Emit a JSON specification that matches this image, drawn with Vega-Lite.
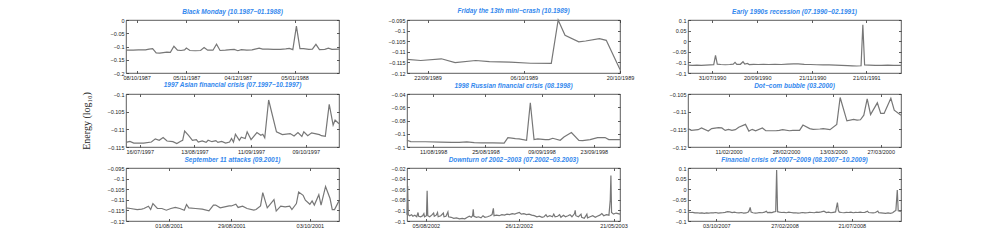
{
"$schema": "https://vega.github.io/schema/vega-lite/v6.json",
"background": "white",
"padding": {"left": 80, "top": 7, "right": 10, "bottom": 5},
"columns": 3,
"spacing": {"row": 21, "column": 68},
"bounds": "flush",
"datasets": {
"p1": [
{"d":"1987-10-02","v":-0.114},{"d":"1987-10-06","v":-0.114},{"d":"1987-10-09","v":-0.113},{"d":"1987-10-13","v":-0.113},{"d":"1987-10-15","v":-0.110},{"d":"1987-10-17","v":-0.108},{"d":"1987-10-19","v":-0.124},{"d":"1987-10-21","v":-0.125},{"d":"1987-10-23","v":-0.123},{"d":"1987-10-25","v":-0.121},{"d":"1987-10-27","v":-0.122},{"d":"1987-10-29","v":-0.099},{"d":"1987-10-31","v":-0.114},{"d":"1987-11-02","v":-0.115},{"d":"1987-11-04","v":-0.113},{"d":"1987-11-05","v":-0.106},{"d":"1987-11-07","v":-0.115},{"d":"1987-11-10","v":-0.116},{"d":"1987-11-13","v":-0.115},{"d":"1987-11-15","v":-0.104},{"d":"1987-11-17","v":-0.114},{"d":"1987-11-20","v":-0.114},{"d":"1987-11-22","v":-0.091},{"d":"1987-11-24","v":-0.115},{"d":"1987-11-27","v":-0.114},{"d":"1987-11-30","v":-0.112},{"d":"1987-12-02","v":-0.111},{"d":"1987-12-04","v":-0.116},{"d":"1987-12-06","v":-0.112},{"d":"1987-12-09","v":-0.114},{"d":"1987-12-12","v":-0.113},{"d":"1987-12-16","v":-0.106},{"d":"1987-12-18","v":-0.110},{"d":"1987-12-21","v":-0.110},{"d":"1987-12-24","v":-0.111},{"d":"1987-12-28","v":-0.111},{"d":"1987-12-31","v":-0.109},{"d":"1988-01-02","v":-0.107},{"d":"1988-01-04","v":-0.112},{"d":"1988-01-06","v":-0.023},{"d":"1988-01-08","v":-0.108},{"d":"1988-01-10","v":-0.108},{"d":"1988-01-13","v":-0.111},{"d":"1988-01-15","v":-0.110},{"d":"1988-01-17","v":-0.092},{"d":"1988-01-19","v":-0.112},{"d":"1988-01-22","v":-0.111},{"d":"1988-01-24","v":-0.106},{"d":"1988-01-26","v":-0.111},{"d":"1988-01-30","v":-0.110}
],
"p2": [
{"d":"1989-09-19","v":-0.1136},{"d":"1989-09-21","v":-0.1141},{"d":"1989-09-24","v":-0.1133},{"d":"1989-09-26","v":-0.1151},{"d":"1989-09-29","v":-0.1141},{"d":"1989-10-01","v":-0.1146},{"d":"1989-10-04","v":-0.1149},{"d":"1989-10-07","v":-0.1154},{"d":"1989-10-10","v":-0.1155},{"d":"1989-10-11","v":-0.0950},{"d":"1989-10-12","v":-0.1022},{"d":"1989-10-14","v":-0.1053},{"d":"1989-10-15","v":-0.1049},{"d":"1989-10-17","v":-0.1038},{"d":"1989-10-18","v":-0.1046},{"d":"1989-10-20","v":-0.1184}
],
"p3": [
{"d":"1990-07-04","v":-0.113},{"d":"1990-07-09","v":-0.114},{"d":"1990-07-14","v":-0.113},{"d":"1990-07-19","v":-0.114},{"d":"1990-07-24","v":-0.113},{"d":"1990-07-29","v":-0.112},{"d":"1990-08-02","v":-0.111},{"d":"1990-08-04","v":-0.067},{"d":"1990-08-06","v":-0.108},{"d":"1990-08-10","v":-0.110},{"d":"1990-08-15","v":-0.111},{"d":"1990-08-20","v":-0.110},{"d":"1990-08-24","v":-0.108},{"d":"1990-08-26","v":-0.100},{"d":"1990-08-28","v":-0.109},{"d":"1990-09-01","v":-0.109},{"d":"1990-09-04","v":-0.097},{"d":"1990-09-06","v":-0.108},{"d":"1990-09-09","v":-0.105},{"d":"1990-09-11","v":-0.110},{"d":"1990-09-16","v":-0.109},{"d":"1990-09-21","v":-0.110},{"d":"1990-09-27","v":-0.109},{"d":"1990-10-03","v":-0.110},{"d":"1990-10-10","v":-0.109},{"d":"1990-10-17","v":-0.110},{"d":"1990-10-24","v":-0.108},{"d":"1990-10-31","v":-0.107},{"d":"1990-11-05","v":-0.107},{"d":"1990-11-12","v":-0.109},{"d":"1990-11-19","v":-0.110},{"d":"1990-11-26","v":-0.111},{"d":"1990-12-03","v":-0.112},{"d":"1990-12-10","v":-0.112},{"d":"1990-12-17","v":-0.113},{"d":"1990-12-24","v":-0.114},{"d":"1990-12-31","v":-0.115},{"d":"1991-01-05","v":-0.116},{"d":"1991-01-10","v":-0.117},{"d":"1991-01-15","v":-0.116},{"d":"1991-01-17","v":0.078},{"d":"1991-01-19","v":-0.112},{"d":"1991-01-24","v":-0.113},{"d":"1991-01-31","v":-0.114},{"d":"1991-02-07","v":-0.114},{"d":"1991-02-14","v":-0.113},{"d":"1991-02-21","v":-0.114},{"d":"1991-03-01","v":-0.114}
],
"p4": [
{"d":"1997-07-09","v":-0.1137},{"d":"1997-07-11","v":-0.1134},{"d":"1997-07-13","v":-0.1139},{"d":"1997-07-18","v":-0.1139},{"d":"1997-07-22","v":-0.1136},{"d":"1997-07-24","v":-0.1127},{"d":"1997-07-26","v":-0.1131},{"d":"1997-07-28","v":-0.1123},{"d":"1997-07-30","v":-0.1133},{"d":"1997-08-02","v":-0.1135},{"d":"1997-08-04","v":-0.1140},{"d":"1997-08-06","v":-0.1134},{"d":"1997-08-07","v":-0.1131},{"d":"1997-08-08","v":-0.1105},{"d":"1997-08-10","v":-0.1117},{"d":"1997-08-12","v":-0.1131},{"d":"1997-08-14","v":-0.1129},{"d":"1997-08-15","v":-0.1136},{"d":"1997-08-17","v":-0.1133},{"d":"1997-08-19","v":-0.1137},{"d":"1997-08-20","v":-0.1131},{"d":"1997-08-22","v":-0.1135},{"d":"1997-08-24","v":-0.1132},{"d":"1997-08-25","v":-0.1137},{"d":"1997-08-27","v":-0.1134},{"d":"1997-08-29","v":-0.1139},{"d":"1997-08-31","v":-0.1136},{"d":"1997-09-01","v":-0.1126},{"d":"1997-09-02","v":-0.1136},{"d":"1997-09-03","v":-0.1114},{"d":"1997-09-05","v":-0.1131},{"d":"1997-09-06","v":-0.1122},{"d":"1997-09-08","v":-0.1126},{"d":"1997-09-09","v":-0.1107},{"d":"1997-09-11","v":-0.1129},{"d":"1997-09-14","v":-0.1109},{"d":"1997-09-16","v":-0.1117},{"d":"1997-09-17","v":-0.1114},{"d":"1997-09-18","v":-0.1124},{"d":"1997-09-20","v":-0.1017},{"d":"1997-09-24","v":-0.1107},{"d":"1997-09-27","v":-0.1115},{"d":"1997-10-01","v":-0.1112},{"d":"1997-10-03","v":-0.1119},{"d":"1997-10-05","v":-0.1109},{"d":"1997-10-07","v":-0.1120},{"d":"1997-10-08","v":-0.1107},{"d":"1997-10-10","v":-0.1118},{"d":"1997-10-12","v":-0.1110},{"d":"1997-10-16","v":-0.1115},{"d":"1997-10-17","v":-0.1118},{"d":"1997-10-19","v":-0.1120},{"d":"1997-10-20","v":-0.1074},{"d":"1997-10-21","v":-0.1029},{"d":"1997-10-23","v":-0.1088},{"d":"1997-10-24","v":-0.1074},{"d":"1997-10-26","v":-0.1084}
],
"p5": [
{"d":"1998-08-04","v":-0.1099},{"d":"1998-08-05","v":-0.1119},{"d":"1998-08-09","v":-0.1121},{"d":"1998-08-13","v":-0.1125},{"d":"1998-08-16","v":-0.1129},{"d":"1998-08-18","v":-0.1131},{"d":"1998-08-20","v":-0.1124},{"d":"1998-08-22","v":-0.1134},{"d":"1998-08-24","v":-0.1139},{"d":"1998-08-27","v":-0.1137},{"d":"1998-08-30","v":-0.1140},{"d":"1998-08-31","v":-0.1058},{"d":"1998-09-02","v":-0.1073},{"d":"1998-09-03","v":-0.1078},{"d":"1998-09-05","v":-0.1099},{"d":"1998-09-06","v":-0.0532},{"d":"1998-09-07","v":-0.1089},{"d":"1998-09-08","v":-0.1078},{"d":"1998-09-10","v":-0.1089},{"d":"1998-09-11","v":-0.1089},{"d":"1998-09-12","v":-0.1068},{"d":"1998-09-14","v":-0.1099},{"d":"1998-09-15","v":-0.1048},{"d":"1998-09-17","v":-0.0982},{"d":"1998-09-19","v":-0.1099},{"d":"1998-09-20","v":-0.1104},{"d":"1998-09-22","v":-0.1089},{"d":"1998-09-24","v":-0.1058},{"d":"1998-09-26","v":-0.1058},{"d":"1998-09-27","v":-0.1089},{"d":"1998-09-30","v":-0.1089}
],
"p6": [
{"d":"2000-01-30","v":-0.1148},{"d":"2000-01-31","v":-0.1153},{"d":"2000-02-02","v":-0.1151},{"d":"2000-02-03","v":-0.1146},{"d":"2000-02-05","v":-0.1155},{"d":"2000-02-06","v":-0.1148},{"d":"2000-02-08","v":-0.1145},{"d":"2000-02-09","v":-0.1146},{"d":"2000-02-10","v":-0.1153},{"d":"2000-02-11","v":-0.1150},{"d":"2000-02-12","v":-0.1153},{"d":"2000-02-13","v":-0.1151},{"d":"2000-02-14","v":-0.1144},{"d":"2000-02-16","v":-0.1136},{"d":"2000-02-17","v":-0.1155},{"d":"2000-02-18","v":-0.1150},{"d":"2000-02-19","v":-0.1154},{"d":"2000-02-21","v":-0.1146},{"d":"2000-02-22","v":-0.1154},{"d":"2000-02-24","v":-0.1154},{"d":"2000-02-25","v":-0.1154},{"d":"2000-02-26","v":-0.1153},{"d":"2000-02-27","v":-0.1151},{"d":"2000-02-29","v":-0.1154},{"d":"2000-03-01","v":-0.1153},{"d":"2000-03-03","v":-0.1153},{"d":"2000-03-04","v":-0.1138},{"d":"2000-03-06","v":-0.1148},{"d":"2000-03-07","v":-0.1150},{"d":"2000-03-09","v":-0.1149},{"d":"2000-03-10","v":-0.1148},{"d":"2000-03-12","v":-0.1151},{"d":"2000-03-14","v":-0.1136},{"d":"2000-03-15","v":-0.1060},{"d":"2000-03-17","v":-0.1126},{"d":"2000-03-19","v":-0.1122},{"d":"2000-03-20","v":-0.1124},{"d":"2000-03-21","v":-0.1123},{"d":"2000-03-22","v":-0.1110},{"d":"2000-03-23","v":-0.1064},{"d":"2000-03-24","v":-0.1108},{"d":"2000-03-26","v":-0.1075},{"d":"2000-03-27","v":-0.1105},{"d":"2000-03-28","v":-0.1105},{"d":"2000-03-30","v":-0.1062},{"d":"2000-03-31","v":-0.1096},{"d":"2000-04-02","v":-0.1110}
],
"p7": [
{"d":"2001-07-13","v":-0.1138},{"d":"2001-07-15","v":-0.1141},{"d":"2001-07-18","v":-0.1146},{"d":"2001-07-20","v":-0.1144},{"d":"2001-07-21","v":-0.1141},{"d":"2001-07-23","v":-0.1130},{"d":"2001-07-24","v":-0.1146},{"d":"2001-07-25","v":-0.1118},{"d":"2001-07-27","v":-0.1141},{"d":"2001-07-29","v":-0.1141},{"d":"2001-07-31","v":-0.1149},{"d":"2001-08-02","v":-0.1141},{"d":"2001-08-04","v":-0.1136},{"d":"2001-08-06","v":-0.1141},{"d":"2001-08-08","v":-0.1149},{"d":"2001-08-09","v":-0.1122},{"d":"2001-08-10","v":-0.1138},{"d":"2001-08-13","v":-0.1141},{"d":"2001-08-16","v":-0.1144},{"d":"2001-08-19","v":-0.1152},{"d":"2001-08-21","v":-0.1125},{"d":"2001-08-22","v":-0.1125},{"d":"2001-08-24","v":-0.1138},{"d":"2001-08-26","v":-0.1133},{"d":"2001-08-28","v":-0.1129},{"d":"2001-08-29","v":-0.1129},{"d":"2001-08-31","v":-0.1121},{"d":"2001-09-01","v":-0.1136},{"d":"2001-09-03","v":-0.1130},{"d":"2001-09-05","v":-0.1141},{"d":"2001-09-08","v":-0.1149},{"d":"2001-09-09","v":-0.1146},{"d":"2001-09-11","v":-0.1129},{"d":"2001-09-12","v":-0.1066},{"d":"2001-09-14","v":-0.1138},{"d":"2001-09-15","v":-0.1125},{"d":"2001-09-17","v":-0.1099},{"d":"2001-09-18","v":-0.1153},{"d":"2001-09-20","v":-0.1130},{"d":"2001-09-22","v":-0.1133},{"d":"2001-09-24","v":-0.1130},{"d":"2001-09-25","v":-0.1146},{"d":"2001-09-27","v":-0.1118},{"d":"2001-09-28","v":-0.1063},{"d":"2001-09-30","v":-0.1079},{"d":"2001-10-01","v":-0.1102},{"d":"2001-10-03","v":-0.1121},{"d":"2001-10-04","v":-0.1105},{"d":"2001-10-05","v":-0.1125},{"d":"2001-10-07","v":-0.1076},{"d":"2001-10-08","v":-0.1125},{"d":"2001-10-10","v":-0.1037},{"d":"2001-10-12","v":-0.1094},{"d":"2001-10-13","v":-0.1146},{"d":"2001-10-14","v":-0.1146},{"d":"2001-10-16","v":-0.1105}
],
"p8": [
{"d":"2002-07-07","v":-0.108},{"d":"2002-07-08","v":-0.054},{"d":"2002-07-09","v":-0.108},{"d":"2002-07-11","v":-0.110},{"d":"2002-07-14","v":-0.108},{"d":"2002-07-16","v":-0.111},{"d":"2002-07-19","v":-0.109},{"d":"2002-07-22","v":-0.112},{"d":"2002-07-24","v":-0.104},{"d":"2002-07-25","v":-0.111},{"d":"2002-07-28","v":-0.112},{"d":"2002-07-31","v":-0.110},{"d":"2002-08-02","v":-0.106},{"d":"2002-08-03","v":-0.112},{"d":"2002-08-06","v":-0.110},{"d":"2002-08-07","v":-0.063},{"d":"2002-08-08","v":-0.110},{"d":"2002-08-11","v":-0.112},{"d":"2002-08-14","v":-0.109},{"d":"2002-08-17","v":-0.105},{"d":"2002-08-18","v":-0.111},{"d":"2002-08-21","v":-0.109},{"d":"2002-08-23","v":-0.104},{"d":"2002-08-24","v":-0.112},{"d":"2002-08-28","v":-0.110},{"d":"2002-09-01","v":-0.105},{"d":"2002-09-02","v":-0.112},{"d":"2002-09-05","v":-0.111},{"d":"2002-09-08","v":-0.103},{"d":"2002-09-09","v":-0.112},{"d":"2002-09-13","v":-0.113},{"d":"2002-09-17","v":-0.115},{"d":"2002-09-21","v":-0.114},{"d":"2002-09-26","v":-0.116},{"d":"2002-09-30","v":-0.115},{"d":"2002-10-04","v":-0.116},{"d":"2002-10-08","v":-0.113},{"d":"2002-10-11","v":-0.111},{"d":"2002-10-14","v":-0.113},{"d":"2002-10-16","v":-0.110},{"d":"2002-10-17","v":-0.098},{"d":"2002-10-18","v":-0.111},{"d":"2002-10-22","v":-0.113},{"d":"2002-10-25","v":-0.112},{"d":"2002-10-29","v":-0.114},{"d":"2002-11-01","v":-0.110},{"d":"2002-11-04","v":-0.113},{"d":"2002-11-08","v":-0.112},{"d":"2002-11-12","v":-0.110},{"d":"2002-11-15","v":-0.108},{"d":"2002-11-17","v":-0.096},{"d":"2002-11-18","v":-0.110},{"d":"2002-11-22","v":-0.109},{"d":"2002-11-26","v":-0.110},{"d":"2002-11-30","v":-0.108},{"d":"2002-12-04","v":-0.109},{"d":"2002-12-08","v":-0.107},{"d":"2002-12-12","v":-0.108},{"d":"2002-12-16","v":-0.106},{"d":"2002-12-20","v":-0.107},{"d":"2002-12-24","v":-0.105},{"d":"2002-12-27","v":-0.104},{"d":"2002-12-30","v":-0.107},{"d":"2003-01-03","v":-0.106},{"d":"2003-01-07","v":-0.108},{"d":"2003-01-11","v":-0.107},{"d":"2003-01-15","v":-0.109},{"d":"2003-01-19","v":-0.110},{"d":"2003-01-23","v":-0.112},{"d":"2003-01-27","v":-0.111},{"d":"2003-01-31","v":-0.113},{"d":"2003-02-03","v":-0.112},{"d":"2003-02-06","v":-0.108},{"d":"2003-02-08","v":-0.112},{"d":"2003-02-12","v":-0.110},{"d":"2003-02-16","v":-0.112},{"d":"2003-02-18","v":-0.107},{"d":"2003-02-20","v":-0.112},{"d":"2003-02-24","v":-0.111},{"d":"2003-02-27","v":-0.108},{"d":"2003-03-01","v":-0.113},{"d":"2003-03-05","v":-0.109},{"d":"2003-03-08","v":-0.112},{"d":"2003-03-12","v":-0.110},{"d":"2003-03-15","v":-0.108},{"d":"2003-03-18","v":-0.112},{"d":"2003-03-22","v":-0.106},{"d":"2003-03-23","v":-0.100},{"d":"2003-03-24","v":-0.110},{"d":"2003-03-28","v":-0.112},{"d":"2003-04-01","v":-0.107},{"d":"2003-04-02","v":-0.113},{"d":"2003-04-06","v":-0.115},{"d":"2003-04-10","v":-0.107},{"d":"2003-04-11","v":-0.114},{"d":"2003-04-15","v":-0.112},{"d":"2003-04-19","v":-0.110},{"d":"2003-04-23","v":-0.113},{"d":"2003-04-26","v":-0.111},{"d":"2003-04-30","v":-0.109},{"d":"2003-05-03","v":-0.106},{"d":"2003-05-06","v":-0.110},{"d":"2003-05-10","v":-0.108},{"d":"2003-05-14","v":-0.109},{"d":"2003-05-16","v":-0.080},{"d":"2003-05-17","v":-0.034},{"d":"2003-05-18","v":-0.104},{"d":"2003-05-21","v":-0.107},{"d":"2003-05-25","v":-0.105},{"d":"2003-05-31","v":-0.107}
],
"p9": [
{"d":"2007-08-03","v":-0.108},{"d":"2007-08-08","v":-0.110},{"d":"2007-08-13","v":-0.109},{"d":"2007-08-18","v":-0.112},{"d":"2007-08-23","v":-0.111},{"d":"2007-08-28","v":-0.113},{"d":"2007-09-02","v":-0.112},{"d":"2007-09-07","v":-0.114},{"d":"2007-09-12","v":-0.112},{"d":"2007-09-17","v":-0.113},{"d":"2007-09-22","v":-0.111},{"d":"2007-09-27","v":-0.112},{"d":"2007-10-02","v":-0.110},{"d":"2007-10-07","v":-0.113},{"d":"2007-10-12","v":-0.112},{"d":"2007-10-17","v":-0.111},{"d":"2007-10-22","v":-0.109},{"d":"2007-10-27","v":-0.106},{"d":"2007-11-01","v":-0.107},{"d":"2007-11-06","v":-0.110},{"d":"2007-11-11","v":-0.108},{"d":"2007-11-16","v":-0.111},{"d":"2007-11-21","v":-0.112},{"d":"2007-11-26","v":-0.110},{"d":"2007-12-01","v":-0.113},{"d":"2007-12-06","v":-0.112},{"d":"2007-12-11","v":-0.108},{"d":"2007-12-13","v":-0.100},{"d":"2007-12-15","v":-0.086},{"d":"2007-12-17","v":-0.108},{"d":"2007-12-21","v":-0.111},{"d":"2007-12-26","v":-0.113},{"d":"2007-12-31","v":-0.112},{"d":"2008-01-05","v":-0.110},{"d":"2008-01-10","v":-0.111},{"d":"2008-01-15","v":-0.108},{"d":"2008-01-19","v":-0.104},{"d":"2008-01-21","v":-0.110},{"d":"2008-01-26","v":-0.109},{"d":"2008-01-31","v":-0.110},{"d":"2008-02-04","v":-0.107},{"d":"2008-02-08","v":-0.105},{"d":"2008-02-10","v":0.090},{"d":"2008-02-12","v":-0.106},{"d":"2008-02-16","v":-0.108},{"d":"2008-02-21","v":-0.110},{"d":"2008-02-26","v":-0.109},{"d":"2008-03-02","v":-0.111},{"d":"2008-03-07","v":-0.108},{"d":"2008-03-12","v":-0.110},{"d":"2008-03-17","v":-0.112},{"d":"2008-03-22","v":-0.111},{"d":"2008-03-27","v":-0.113},{"d":"2008-04-01","v":-0.112},{"d":"2008-04-06","v":-0.110},{"d":"2008-04-11","v":-0.112},{"d":"2008-04-16","v":-0.111},{"d":"2008-04-21","v":-0.109},{"d":"2008-04-26","v":-0.110},{"d":"2008-05-01","v":-0.111},{"d":"2008-05-06","v":-0.108},{"d":"2008-05-11","v":-0.109},{"d":"2008-05-16","v":-0.107},{"d":"2008-05-22","v":-0.104},{"d":"2008-05-27","v":-0.110},{"d":"2008-06-01","v":-0.108},{"d":"2008-06-06","v":-0.111},{"d":"2008-06-11","v":-0.109},{"d":"2008-06-16","v":-0.107},{"d":"2008-06-18","v":-0.085},{"d":"2008-06-20","v":-0.063},{"d":"2008-06-22","v":-0.100},{"d":"2008-06-24","v":-0.108},{"d":"2008-06-29","v":-0.110},{"d":"2008-07-04","v":-0.111},{"d":"2008-07-09","v":-0.109},{"d":"2008-07-14","v":-0.110},{"d":"2008-07-19","v":-0.108},{"d":"2008-07-24","v":-0.111},{"d":"2008-07-29","v":-0.109},{"d":"2008-08-03","v":-0.110},{"d":"2008-08-08","v":-0.108},{"d":"2008-08-13","v":-0.110},{"d":"2008-08-18","v":-0.109},{"d":"2008-08-24","v":-0.104},{"d":"2008-08-26","v":-0.110},{"d":"2008-08-31","v":-0.111},{"d":"2008-09-05","v":-0.112},{"d":"2008-09-10","v":-0.110},{"d":"2008-09-15","v":-0.103},{"d":"2008-09-17","v":-0.111},{"d":"2008-09-22","v":-0.112},{"d":"2008-09-27","v":-0.113},{"d":"2008-10-02","v":-0.114},{"d":"2008-10-07","v":-0.112},{"d":"2008-10-12","v":-0.114},{"d":"2008-10-17","v":-0.111},{"d":"2008-10-21","v":-0.104},{"d":"2008-10-24","v":-0.100},{"d":"2008-10-27","v":-0.004},{"d":"2008-10-29","v":-0.102},{"d":"2008-11-01","v":-0.104},{"d":"2008-11-04","v":-0.105}
]
},
"concat": [
{"title": "Black Monday (10.1987−01.1988)", "width": 213, "height": 53, "data": {"name": "p1"},
 "layer": [
  {"mark": "line", "encoding": {
    "x": {"field": "d", "type": "temporal", "title": null, "scale": {"type": "utc", "nice": false, "domain": [{"year":1987,"month":10,"date":2,"utc":true},{"year":1988,"month":1,"date":30,"utc":true}]},
          "axis": {"format": "%d/%m/%Y", "values": [{"year":1987,"month":10,"date":8,"utc":true},{"year":1987,"month":11,"date":5,"utc":true},{"year":1987,"month":12,"date":4,"utc":true},{"year":1988,"month":1,"date":5,"utc":true}]}},
    "y": {"field": "v", "type": "quantitative", "title": null, "scale": {"domain": [-0.2, 0], "nice": false, "zero": false}, "axis": {"format": "~g", "values": [0, -0.05, -0.1, -0.15, -0.2]}}}},
  {"mark": {"type": "line", "opacity": 0}, "encoding": {
    "x": {"field": "d", "type": "temporal", "title": null, "axis": {"orient": "top", "labels": false, "values": [{"year":1987,"month":10,"date":8,"utc":true},{"year":1987,"month":11,"date":5,"utc":true},{"year":1987,"month":12,"date":4,"utc":true},{"year":1988,"month":1,"date":5,"utc":true}]}},
    "y": {"field": "v", "type": "quantitative", "title": null, "axis": {"orient": "right", "labels": false, "values": [0, -0.05, -0.1, -0.15, -0.2]}}}}
 ],
 "resolve": {"axis": {"x": "independent", "y": "independent"}}},
{"title": "Friday the 13th mini−crash (10.1989)", "width": 213, "height": 53, "data": {"name": "p2"},
 "layer": [
  {"mark": "line", "encoding": {
    "x": {"field": "d", "type": "temporal", "title": null, "scale": {"type": "utc", "nice": false, "domain": [{"year":1989,"month":9,"date":19,"utc":true},{"year":1989,"month":10,"date":20,"utc":true}]},
          "axis": {"format": "%d/%m/%Y", "values": [{"year":1989,"month":9,"date":22,"utc":true},{"year":1989,"month":10,"date":6,"utc":true},{"year":1989,"month":10,"date":20,"utc":true}]}},
    "y": {"field": "v", "type": "quantitative", "title": null, "scale": {"domain": [-0.12, -0.095], "nice": false, "zero": false}, "axis": {"format": "~g", "values": [-0.095, -0.1, -0.105, -0.11, -0.115, -0.12]}}}},
  {"mark": {"type": "line", "opacity": 0}, "encoding": {
    "x": {"field": "d", "type": "temporal", "title": null, "axis": {"orient": "top", "labels": false, "values": [{"year":1989,"month":9,"date":22,"utc":true},{"year":1989,"month":10,"date":6,"utc":true},{"year":1989,"month":10,"date":20,"utc":true}]}},
    "y": {"field": "v", "type": "quantitative", "title": null, "axis": {"orient": "right", "labels": false, "values": [-0.095, -0.1, -0.105, -0.11, -0.115, -0.12]}}}}
 ],
 "resolve": {"axis": {"x": "independent", "y": "independent"}}},
{"title": "Early 1990s recession (07.1990−02.1991)", "width": 213, "height": 53, "data": {"name": "p3"},
 "layer": [
  {"mark": "line", "encoding": {
    "x": {"field": "d", "type": "temporal", "title": null, "scale": {"type": "utc", "nice": false, "domain": [{"year":1990,"month":7,"date":4,"utc":true},{"year":1991,"month":3,"date":1,"utc":true}]},
          "axis": {"format": "%d/%m/%Y", "values": [{"year":1990,"month":7,"date":31,"utc":true},{"year":1990,"month":9,"date":20,"utc":true},{"year":1990,"month":11,"date":21,"utc":true},{"year":1991,"month":1,"date":21,"utc":true}]}},
    "y": {"field": "v", "type": "quantitative", "title": null, "scale": {"domain": [-0.15, 0.1], "nice": false, "zero": false}, "axis": {"format": "~g", "values": [0.1, 0.05, 0, -0.05, -0.1, -0.15]}}}},
  {"mark": {"type": "line", "opacity": 0}, "encoding": {
    "x": {"field": "d", "type": "temporal", "title": null, "axis": {"orient": "top", "labels": false, "values": [{"year":1990,"month":7,"date":31,"utc":true},{"year":1990,"month":9,"date":20,"utc":true},{"year":1990,"month":11,"date":21,"utc":true},{"year":1991,"month":1,"date":21,"utc":true}]}},
    "y": {"field": "v", "type": "quantitative", "title": null, "axis": {"orient": "right", "labels": false, "values": [0.1, 0.05, 0, -0.05, -0.1, -0.15]}}}}
 ],
 "resolve": {"axis": {"x": "independent", "y": "independent"}}},
{"title": "1997 Asian financial crisis (07.1997−10.1997)", "width": 213, "height": 53, "data": {"name": "p4"},
 "layer": [
  {"mark": "line", "encoding": {
    "x": {"field": "d", "type": "temporal", "title": null, "scale": {"type": "utc", "nice": false, "domain": [{"year":1997,"month":7,"date":9,"utc":true},{"year":1997,"month":10,"date":26,"utc":true}]},
          "axis": {"format": "%d/%m/%Y", "values": [{"year":1997,"month":7,"date":16,"utc":true},{"year":1997,"month":8,"date":13,"utc":true},{"year":1997,"month":9,"date":11,"utc":true},{"year":1997,"month":10,"date":9,"utc":true}]}},
    "y": {"field": "v", "type": "quantitative", "title": "Energy (log₁₀)", "scale": {"domain": [-0.115, -0.1], "nice": false, "zero": false},
          "axis": {"format": "~g", "values": [-0.1, -0.105, -0.11, -0.115], "titleFont": "Liberation Serif", "titleFontSize": 10, "titleFontWeight": "normal", "titleColor": "#222", "titlePadding": 16}}}},
  {"mark": {"type": "line", "opacity": 0}, "encoding": {
    "x": {"field": "d", "type": "temporal", "title": null, "axis": {"orient": "top", "labels": false, "values": [{"year":1997,"month":7,"date":16,"utc":true},{"year":1997,"month":8,"date":13,"utc":true},{"year":1997,"month":9,"date":11,"utc":true},{"year":1997,"month":10,"date":9,"utc":true}]}},
    "y": {"field": "v", "type": "quantitative", "title": null, "axis": {"orient": "right", "labels": false, "values": [-0.1, -0.105, -0.11, -0.115]}}}}
 ],
 "resolve": {"axis": {"x": "independent", "y": "independent"}}},
{"title": "1998 Russian financial crisis (08.1998)", "width": 213, "height": 53, "data": {"name": "p5"},
 "layer": [
  {"mark": "line", "encoding": {
    "x": {"field": "d", "type": "temporal", "title": null, "scale": {"type": "utc", "nice": false, "domain": [{"year":1998,"month":8,"date":4,"utc":true},{"year":1998,"month":9,"date":30,"utc":true}]},
          "axis": {"format": "%d/%m/%Y", "values": [{"year":1998,"month":8,"date":11,"utc":true},{"year":1998,"month":8,"date":25,"utc":true},{"year":1998,"month":9,"date":9,"utc":true},{"year":1998,"month":9,"date":23,"utc":true}]}},
    "y": {"field": "v", "type": "quantitative", "title": null, "scale": {"domain": [-0.12, -0.04], "nice": false, "zero": false}, "axis": {"format": "~g", "values": [-0.04, -0.06, -0.08, -0.1, -0.12]}}}},
  {"mark": {"type": "line", "opacity": 0}, "encoding": {
    "x": {"field": "d", "type": "temporal", "title": null, "axis": {"orient": "top", "labels": false, "values": [{"year":1998,"month":8,"date":11,"utc":true},{"year":1998,"month":8,"date":25,"utc":true},{"year":1998,"month":9,"date":9,"utc":true},{"year":1998,"month":9,"date":23,"utc":true}]}},
    "y": {"field": "v", "type": "quantitative", "title": null, "axis": {"orient": "right", "labels": false, "values": [-0.04, -0.06, -0.08, -0.1, -0.12]}}}}
 ],
 "resolve": {"axis": {"x": "independent", "y": "independent"}}},
{"title": "Dot−com bubble (03.2000)", "width": 213, "height": 53, "data": {"name": "p6"},
 "layer": [
  {"mark": "line", "encoding": {
    "x": {"field": "d", "type": "temporal", "title": null, "scale": {"type": "utc", "nice": false, "domain": [{"year":2000,"month":1,"date":30,"utc":true},{"year":2000,"month":4,"date":2,"utc":true}]},
          "axis": {"format": "%d/%m/%Y", "values": [{"year":2000,"month":2,"date":11,"utc":true},{"year":2000,"month":2,"date":28,"utc":true},{"year":2000,"month":3,"date":13,"utc":true},{"year":2000,"month":3,"date":27,"utc":true}]}},
    "y": {"field": "v", "type": "quantitative", "title": null, "scale": {"domain": [-0.12, -0.105], "nice": false, "zero": false}, "axis": {"format": "~g", "values": [-0.105, -0.11, -0.115, -0.12]}}}},
  {"mark": {"type": "line", "opacity": 0}, "encoding": {
    "x": {"field": "d", "type": "temporal", "title": null, "axis": {"orient": "top", "labels": false, "values": [{"year":2000,"month":2,"date":11,"utc":true},{"year":2000,"month":2,"date":28,"utc":true},{"year":2000,"month":3,"date":13,"utc":true},{"year":2000,"month":3,"date":27,"utc":true}]}},
    "y": {"field": "v", "type": "quantitative", "title": null, "axis": {"orient": "right", "labels": false, "values": [-0.105, -0.11, -0.115, -0.12]}}}}
 ],
 "resolve": {"axis": {"x": "independent", "y": "independent"}}},
{"title": "September 11 attacks (09.2001)", "width": 213, "height": 53, "data": {"name": "p7"},
 "layer": [
  {"mark": "line", "encoding": {
    "x": {"field": "d", "type": "temporal", "title": null, "scale": {"type": "utc", "nice": false, "domain": [{"year":2001,"month":7,"date":13,"utc":true},{"year":2001,"month":10,"date":16,"utc":true}]},
          "axis": {"format": "%d/%m/%Y", "values": [{"year":2001,"month":8,"date":1,"utc":true},{"year":2001,"month":8,"date":29,"utc":true},{"year":2001,"month":10,"date":3,"utc":true}]}},
    "y": {"field": "v", "type": "quantitative", "title": null, "scale": {"domain": [-0.12, -0.095], "nice": false, "zero": false}, "axis": {"format": "~g", "values": [-0.095, -0.1, -0.105, -0.11, -0.115, -0.12]}}}},
  {"mark": {"type": "line", "opacity": 0}, "encoding": {
    "x": {"field": "d", "type": "temporal", "title": null, "axis": {"orient": "top", "labels": false, "values": [{"year":2001,"month":8,"date":1,"utc":true},{"year":2001,"month":8,"date":29,"utc":true},{"year":2001,"month":10,"date":3,"utc":true}]}},
    "y": {"field": "v", "type": "quantitative", "title": null, "axis": {"orient": "right", "labels": false, "values": [-0.095, -0.1, -0.105, -0.11, -0.115, -0.12]}}}}
 ],
 "resolve": {"axis": {"x": "independent", "y": "independent"}}},
{"title": "Downturn of 2002−2003 (07.2002−03.2003)", "width": 213, "height": 53, "data": {"name": "p8"},
 "layer": [
  {"mark": "line", "encoding": {
    "x": {"field": "d", "type": "temporal", "title": null, "scale": {"type": "utc", "nice": false, "domain": [{"year":2002,"month":7,"date":7,"utc":true},{"year":2003,"month":5,"date":31,"utc":true}]},
          "axis": {"format": "%d/%m/%Y", "values": [{"year":2002,"month":8,"date":5,"utc":true},{"year":2002,"month":12,"date":26,"utc":true},{"year":2003,"month":5,"date":21,"utc":true}]}},
    "y": {"field": "v", "type": "quantitative", "title": null, "scale": {"domain": [-0.12, -0.02], "nice": false, "zero": false}, "axis": {"format": "~g", "values": [-0.02, -0.04, -0.06, -0.08, -0.1, -0.12]}}}},
  {"mark": {"type": "line", "opacity": 0}, "encoding": {
    "x": {"field": "d", "type": "temporal", "title": null, "axis": {"orient": "top", "labels": false, "values": [{"year":2002,"month":8,"date":5,"utc":true},{"year":2002,"month":12,"date":26,"utc":true},{"year":2003,"month":5,"date":21,"utc":true}]}},
    "y": {"field": "v", "type": "quantitative", "title": null, "axis": {"orient": "right", "labels": false, "values": [-0.02, -0.04, -0.06, -0.08, -0.1, -0.12]}}}}
 ],
 "resolve": {"axis": {"x": "independent", "y": "independent"}}},
{"title": "Financial crisis of 2007−2009 (08.2007−10.2009)", "width": 213, "height": 53, "data": {"name": "p9"},
 "layer": [
  {"mark": "line", "encoding": {
    "x": {"field": "d", "type": "temporal", "title": null, "scale": {"type": "utc", "nice": false, "domain": [{"year":2007,"month":8,"date":3,"utc":true},{"year":2008,"month":11,"date":4,"utc":true}]},
          "axis": {"format": "%d/%m/%Y", "values": [{"year":2007,"month":10,"date":3,"utc":true},{"year":2008,"month":2,"date":27,"utc":true},{"year":2008,"month":7,"date":21,"utc":true}]}},
    "y": {"field": "v", "type": "quantitative", "title": null, "scale": {"domain": [-0.15, 0.1], "nice": false, "zero": false}, "axis": {"format": "~g", "values": [0.1, 0.05, 0, -0.05, -0.1, -0.15]}}}},
  {"mark": {"type": "line", "opacity": 0}, "encoding": {
    "x": {"field": "d", "type": "temporal", "title": null, "axis": {"orient": "top", "labels": false, "values": [{"year":2007,"month":10,"date":3,"utc":true},{"year":2008,"month":2,"date":27,"utc":true},{"year":2008,"month":7,"date":21,"utc":true}]}},
    "y": {"field": "v", "type": "quantitative", "title": null, "axis": {"orient": "right", "labels": false, "values": [0.1, 0.05, 0, -0.05, -0.1, -0.15]}}}}
 ],
 "resolve": {"axis": {"x": "independent", "y": "independent"}}}
],
"config": {
 "view": {"stroke": "#333", "strokeWidth": 0.8},
 "axis": {"grid": false, "domain": false, "tickSize": -2.5, "tickColor": "#333", "tickWidth": 0.8, "labelFont": "Liberation Sans", "labelFontSize": 5.5, "labelColor": "#222", "labelPadding": 4.5, "labelFlush": false, "labelOverlap": false},
 "line": {"color": "#777777", "strokeWidth": 1.2},
 "title": {"font": "Liberation Sans", "fontSize": 6.5, "fontStyle": "italic", "fontWeight": "bold", "color": "#3388ee", "offset": 3, "anchor": "middle"}
}
}
